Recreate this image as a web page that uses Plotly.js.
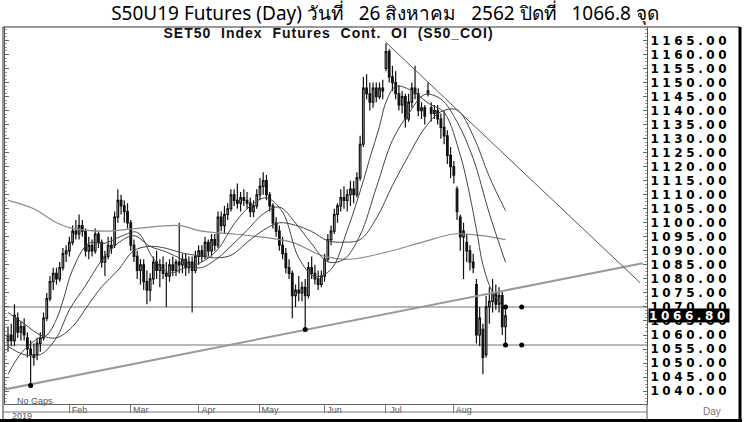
<!DOCTYPE html>
<html><head><meta charset="utf-8">
<script src="https://cdn.plot.ly/plotly-3.0.1.min.js"></script>
<style>
html,body{margin:0;padding:0;background:#fff}
#chart{width:750px;height:422px}
#chart .ytick text{letter-spacing:3.6px}
#chart g.annotation[data-index="0"] text{letter-spacing:1px}
#chart g.annotation[data-index="1"] text{letter-spacing:3.6px}
</style>
</head><body><div id="chart"></div>
<script>
// Trading days (No Gaps)
const dates = [
"2019-01-07","2019-01-08","2019-01-09","2019-01-10","2019-01-11","2019-01-14","2019-01-15","2019-01-16","2019-01-17","2019-01-18","2019-01-21","2019-01-22","2019-01-23","2019-01-24","2019-01-25","2019-01-28","2019-01-29","2019-01-30","2019-01-31",
"2019-02-01","2019-02-04","2019-02-05","2019-02-06","2019-02-07","2019-02-08","2019-02-11","2019-02-12","2019-02-13","2019-02-14","2019-02-15","2019-02-18","2019-02-20","2019-02-21","2019-02-22","2019-02-25","2019-02-26","2019-02-27","2019-02-28",
"2019-03-01","2019-03-04","2019-03-05","2019-03-06","2019-03-07","2019-03-08","2019-03-11","2019-03-12","2019-03-13","2019-03-14","2019-03-15","2019-03-18","2019-03-19","2019-03-20","2019-03-21","2019-03-22","2019-03-25","2019-03-26","2019-03-27","2019-03-28","2019-03-29",
"2019-04-01","2019-04-02","2019-04-03","2019-04-04","2019-04-05","2019-04-09","2019-04-10","2019-04-11","2019-04-12","2019-04-17","2019-04-18","2019-04-19","2019-04-22","2019-04-23","2019-04-24","2019-04-25","2019-04-26","2019-04-29","2019-04-30",
"2019-05-02","2019-05-03","2019-05-07","2019-05-08","2019-05-09","2019-05-10","2019-05-13","2019-05-14","2019-05-15","2019-05-16","2019-05-17","2019-05-21","2019-05-22","2019-05-23","2019-05-24","2019-05-27","2019-05-28","2019-05-29","2019-05-30","2019-05-31",
"2019-06-04","2019-06-05","2019-06-06","2019-06-07","2019-06-10","2019-06-11","2019-06-12","2019-06-13","2019-06-14","2019-06-17","2019-06-18","2019-06-19","2019-06-20","2019-06-21","2019-06-24","2019-06-25","2019-06-26","2019-06-27","2019-06-28",
"2019-07-01","2019-07-02","2019-07-03","2019-07-04","2019-07-05","2019-07-08","2019-07-09","2019-07-10","2019-07-11","2019-07-12","2019-07-15","2019-07-17","2019-07-18","2019-07-19","2019-07-22","2019-07-23","2019-07-24","2019-07-25","2019-07-26","2019-07-30","2019-07-31",
"2019-08-01","2019-08-02","2019-08-05","2019-08-06","2019-08-07","2019-08-08","2019-08-09","2019-08-13","2019-08-14","2019-08-15","2019-08-16","2019-08-19","2019-08-20","2019-08-21","2019-08-22","2019-08-23","2019-08-26"];

const openP = [1058,1060,1058,1066,1061,1063,1059,1055,1053,1053,1057,1059,1066,1073,1079,1082,1080,1084,1089,
1090,1093,1097,1096,1099,1097,1090,1092,1090,1096,1093,1086,1088,1092,1092,1102,1108,1106,1104,
1100,1092,1088,1083,1085,1079,1076,1080,1086,1083,1085,1082,1081,1085,1083,1086,1085,1087,1084,1086,1083,
1088,1090,1088,1093,1090,1094,1092,1102,1099,1103,1105,1110,1108,1107,1109,1108,1107,1104,1106,
1110,1113,1115,1110,1106,1100,1097,1092,1089,1084,1082,1074,1076,1075,1077,1074,1084,1082,1080,1078,
1081,1087,1094,1097,1103,1106,1109,1108,1110,1112,1110,1116,1128,1148,1146,1143,1148,1145,1148,
1155,1161,1152,1150,1146,1142,1145,1137,1143,1148,1146,1140,1141,1146,1141,1139,1140,1137,1134,1131,1124,
1120,1112,1102,1095,1093,1090,1086,1078,1060,1062,1053,1070,1072,1075,1071,1074,1063];
const highP = [1063,1064,1071,1068,1065,1066,1061,1058,1057,1059,1061,1068,1075,1081,1084,1084,1086,1091,1092,
1095,1099,1101,1103,1101,1098,1095,1094,1098,1097,1094,1090,1095,1095,1104,1112,1110,1108,1107,
1101,1094,1090,1087,1087,1083,1082,1088,1090,1087,1088,1086,1087,1088,1087,1100,1089,1089,1088,1088,1090,
1092,1092,1095,1094,1096,1096,1104,1104,1106,1107,1112,1112,1114,1111,1112,1111,1109,1108,1112,
1116,1118,1117,1111,1107,1102,1099,1095,1091,1087,1083,1078,1081,1079,1080,1086,1088,1085,1083,1083,
1089,1096,1099,1105,1107,1112,1113,1112,1115,1115,1118,1131,1152,1153,1150,1150,1150,1150,1151,
1164,1162,1156,1154,1149,1147,1146,1146,1150,1156,1148,1143,1142,1150,1143,1142,1142,1139,1140,1133,1127,
1122,1113,1103,1100,1096,1092,1089,1080,1070,1064,1074,1077,1080,1078,1077,1076,1070];
const lowP = [1054,1056,1056,1059,1058,1058,1052,1042,1049,1051,1054,1058,1065,1072,1076,1078,1079,1083,1086,
1088,1092,1094,1094,1095,1088,1087,1088,1089,1091,1084,1081,1087,1089,1091,1100,1103,1100,1098,
1090,1086,1080,1078,1076,1071,1072,1078,1080,1077,1080,1070,1079,1081,1081,1082,1082,1081,1082,1068,1082,
1085,1086,1087,1088,1088,1090,1091,1097,1096,1101,1104,1106,1105,1104,1106,1105,1102,1102,1105,
1108,1110,1108,1104,1098,1095,1090,1087,1082,1080,1066,1070,1072,1072,1062,1073,1080,1078,1076,1077,
1079,1086,1092,1096,1100,1104,1105,1104,1106,1107,1109,1115,1127,1144,1140,1141,1143,1144,1144,
1154,1150,1147,1144,1140,1139,1134,1136,1141,1144,1138,1137,1135,1145,1136,1137,1135,1130,1128,1121,1116,
1114,1101,1090,1080,1086,1083,1082,1057,1056,1046,1052,1064,1068,1069,1068,1060,1057];
const closeP = [1060,1058,1067,1061,1063,1060,1055,1053,1052,1057,1059,1066,1073,1079,1082,1080,1084,1089,1090,
1093,1097,1096,1099,1097,1090,1092,1090,1096,1093,1086,1088,1092,1091,1102,1108,1106,1104,1100,
1092,1088,1083,1085,1079,1076,1080,1086,1083,1085,1082,1081,1085,1083,1086,1085,1087,1084,1086,1083,1088,
1090,1088,1093,1090,1094,1092,1102,1099,1103,1105,1110,1108,1107,1109,1108,1107,1104,1106,1110,
1113,1115,1110,1106,1100,1097,1092,1089,1084,1082,1074,1076,1075,1077,1074,1084,1082,1080,1078,1081,
1087,1094,1097,1103,1106,1109,1108,1110,1112,1110,1116,1128,1148,1146,1143,1148,1145,1148,1147,
1161,1152,1150,1146,1142,1145,1137,1143,1148,1146,1140,1141,1138,1147,1139,1140,1137,1134,1131,1124,1120,
1117,1104,1095,1097,1090,1086,1084,1060,1066,1052,1070,1072,1075,1071,1074,1063,1066.8];

// Moving averages (trading-day index, value)
const ma10Idx = [0,4,9,12,15,17,20,25,30,35,40,45,50,55,60,65,70,75,80,85,90,95,100,105,110,112,115,117,120,125,130,135,140,142,145,147,150,154];
const ma10 = [1046,1053.4,1058.6,1059.9,1065.6,1072.1,1083.3,1092.7,1092.7,1095.2,1096.6,1087.3,1082.2,1084.1,1086,1090.6,1099.6,1106,1108.9,1103.8,1087.5,1080.8,1083.4,1097.3,1115,1123,1134.4,1143,1148.6,1147.1,1142.7,1139.3,1124.1,1114.9,1097.7,1085.1,1075.2,1069.1];
const ma20Idx = [0,5,10,15,19,24,29,34,39,44,49,54,59,64,69,74,79,84,89,94,99,104,109,114,119,124,129,134,139,144,149,154];
const ma20 = [1056,1053,1053,1059,1069,1077.6,1086.6,1092.7,1095.4,1091.6,1089.6,1086.9,1083.9,1086.6,1091.7,1097.3,1103.2,1105.6,1099.9,1092.5,1086.1,1087,1095.6,1112.5,1129.4,1138.9,1145.7,1144.1,1136,1122.9,1103.3,1085.9];
const ma30Idx = [0,5,10,15,20,25,29,34,39,44,49,54,59,64,69,74,79,84,89,94,99,104,109,114,119,124,129,134,139,144,149,154];
const ma30 = [1068,1064,1060,1059,1063,1071,1077.2,1083,1090.1,1091.6,1090.9,1089.2,1088.3,1087.5,1088.4,1093,1097.3,1100,1099.1,1096.9,1093.6,1093.1,1094,1101.5,1113.3,1124,1133.8,1139.6,1140.2,1131,1116.4,1104.3];
const longIdx = [0,8,15,20,30,40,53,60,70,78,88,98,106,117,128,138,146,154];
const longMa = [1108,1105,1100,1098,1097,1098,1099,1097,1096,1095,1093,1088,1087,1089.5,1093,1096,1095.5,1094];

// Trend lines (trading-day index, price)
const supportIdx = [-1, 196.5];
const supportPrice = [1040.6, 1085.6];
const resistIdx = [117, 195.7];
const resistPrice = [1164.3, 1078.6];
const levels = [1070, 1056.4];
const pivotIdx = [7, 92, 154, 159, 154, 159];
const pivotPrice = [1042, 1062, 1070, 1070, 1056.4, 1056.4];

const monthNames = ['Jan','Feb','Mar','Apr','May','Jun','Jul','Aug','Sep','Oct','Nov','Dec'];
const lastClose = closeP[closeP.length-1];

const idx = dates.map((d,i)=>i);
const tickIdx = [], tickTxt = [];
dates.forEach((d,i)=>{
  const m = +d.slice(5,7);
  if (i>0 && m !== +dates[i-1].slice(5,7)) { tickIdx.push(i); tickTxt.push(monthNames[m-1]); }
});

const maLine = (x,y,c,w)=>({type:'scatter',mode:'lines',x:x,y:y,line:{color:c,width:w,shape:'spline',smoothing:1},hoverinfo:'skip'});

const traces = [
  maLine(longIdx,longMa,'#8a8a8a',1.2),
  maLine(ma30Idx,ma30,'#444',1),
  maLine(ma20Idx,ma20,'#444',1),
  maLine(ma10Idx,ma10,'#444',1),
  {type:'scatter',mode:'lines',x:supportIdx,y:supportPrice,line:{color:'#9a9a9a',width:2},hoverinfo:'skip'},
  {type:'scatter',mode:'lines',x:resistIdx,y:resistPrice,line:{color:'#555',width:1},hoverinfo:'skip'},
  {type:'candlestick',x:idx,open:openP,high:highP,low:lowP,close:closeP,
   increasing:{line:{color:'#111',width:1.2},fillcolor:'#ffffff'},
   decreasing:{line:{color:'#111',width:1.2},fillcolor:'#111111'},
   whiskerwidth:0,hoverinfo:'skip'},
  {type:'scatter',mode:'markers',x:pivotIdx,y:pivotPrice,marker:{color:'#000',size:5},hoverinfo:'skip'}
];

const xp = px => (px-5)/642, yp = py => (404-py)/377;
const shapes = levels.map(v=>({type:'line',xref:'paper',yref:'y',x0:0,x1:1,y0:v,y1:v,line:{color:'#a0a0a0',width:1.5},layer:'below'}));
shapes.push(
  {type:'rect',xref:'paper',yref:'paper',x0:xp(3),x1:xp(740),y0:yp(420),y1:yp(27),line:{color:'#333',width:1}},
  {type:'line',xref:'paper',yref:'paper',x0:xp(740),x1:xp(740),y0:yp(422),y1:yp(27),line:{color:'#000',width:3}},
  {type:'line',xref:'paper',yref:'paper',x0:xp(0),x1:xp(742),y0:yp(420.5),y1:yp(420.5),line:{color:'#000',width:3}},
  {type:'line',xref:'paper',yref:'paper',x0:xp(3),x1:1,y0:yp(412),y1:yp(412),line:{color:'#777',width:1}},
  {type:'line',xref:'paper',yref:'paper',x0:1,x1:1,y0:yp(420),y1:0,line:{color:'#555',width:1}}
);

const layout = {
  width:750, height:422,
  margin:{l:5,r:103,t:27,b:18},
  paper_bgcolor:'#fff', plot_bgcolor:'#fff',
  showlegend:false,
  title:{text:'S50U19 Futures (Day) วันที่\u00a0\u00a0\u00a026 สิงหาคม\u00a0\u00a0\u00a02562 ปิดที่\u00a0\u00a0\u00a01066.8 จุด',
    x:385/750, y:1-13/422, xref:'container', yref:'container', xanchor:'center', yanchor:'middle',
    font:{family:'Noto Sans, sans-serif', size:19, color:'#000'}},
  xaxis:{type:'linear', range:[-0.93,197.8], tickvals:tickIdx, ticktext:tickTxt,
    ticks:'outside', ticklen:8, tickcolor:'#777', showline:true, linecolor:'#666', linewidth:1,
    showgrid:false, zeroline:false, rangeslider:{visible:false},
    tickfont:{family:'Liberation Sans, Arial, sans-serif', size:9, color:'#555'},
    ticklabelshift:10, ticklabelstandoff:-11},
  yaxis:{side:'right', range:[1035.4,1169.8], tick0:1040, dtick:5, tickformat:'.2f',
    showline:true, linecolor:'#555', mirror:'allticks', ticks:'inside', ticklen:4, tickcolor:'#666',
    minor:{ticks:'inside', ticklen:2, dtick:1.25, tickcolor:'#999'},
    showgrid:false, zeroline:false, ticklabelstandoff:0,
    tickfont:{family:'DejaVu Sans, sans-serif', size:12, weight:'bold', color:'#000'}},
  shapes:shapes,
  annotations:[
    {text:'SET50\u00a0\u00a0Index\u00a0\u00a0Futures\u00a0\u00a0Cont.\u00a0\u00a0OI\u00a0\u00a0(S50_COI)', xref:'paper', yref:'paper',
     x:xp(328), y:yp(33), xanchor:'center', yanchor:'middle', showarrow:false,
     font:{family:'Liberation Sans, Arial, sans-serif', size:14, weight:'bold', color:'#111'}},
    {text:lastClose.toFixed(2), xref:'paper', yref:'y', x:1, y:lastClose, xanchor:'left', yanchor:'middle', xshift:1,
     showarrow:false, bgcolor:'#000', width:80, height:13, borderpad:0,
     font:{family:'DejaVu Sans, sans-serif', size:12, weight:'bold', color:'#fff'}},
    {text:'No Gaps', xref:'paper', yref:'paper', x:xp(15), y:yp(401), xanchor:'left', yanchor:'middle', showarrow:false,
     font:{family:'Liberation Sans, Arial, sans-serif', size:9, color:'#555'}},
    {text:'2019', xref:'paper', yref:'paper', x:xp(10), y:yp(415.5), xanchor:'left', yanchor:'middle', showarrow:false,
     font:{family:'Liberation Sans, Arial, sans-serif', size:9, color:'#555'}},
    {text:'Day', xref:'paper', yref:'paper', x:xp(712), y:yp(411), xanchor:'center', yanchor:'middle', showarrow:false,
     font:{family:'Liberation Sans, Arial, sans-serif', size:10, color:'#777'}}
  ]
};

Plotly.newPlot('chart', traces, layout, {staticPlot:true, displayModeBar:false});
</script>
</body></html>
